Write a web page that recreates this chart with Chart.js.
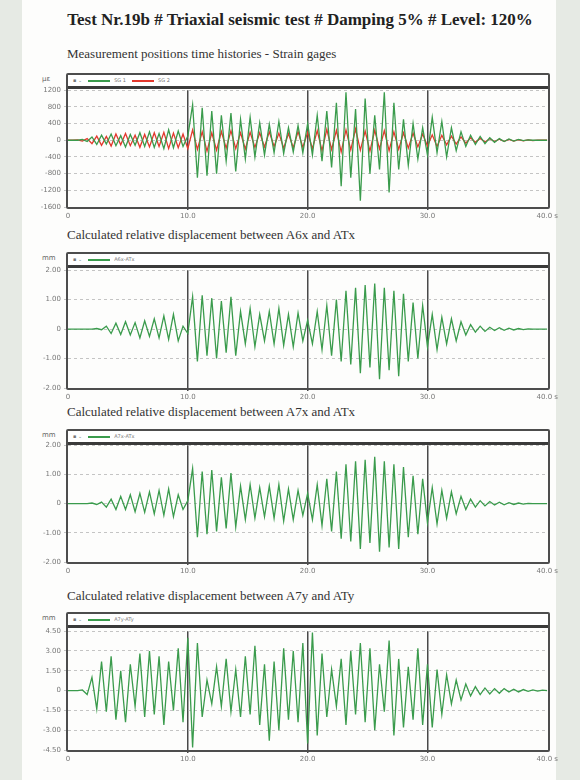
<!DOCTYPE html>
<html>
<head>
<meta charset="utf-8">
<script src="https://cdn.jsdelivr.net/npm/chart.js@4/dist/chart.umd.min.js"></script>
<style>
  html, body { margin: 0; padding: 0; }
  body { width: 580px; height: 780px; background: #e6eae4; position: relative; overflow: hidden; }
  #page { position: absolute; left: 22px; top: 0; width: 534px; height: 780px; background: #fdfdfc; }
  .title { position: absolute; left: 0; width: 600px; text-align: center; top: 10px;
    font: bold 17px "Liberation Serif", "DejaVu Serif", serif; color: #222; }
  .sub { position: absolute; left: 67px; font: 13px "Liberation Serif", "DejaVu Serif", serif; color: #333; }
  .unit { position: absolute; left: 42px; font: 7px "DejaVu Sans", sans-serif; color: #666; }
  .frame { position: absolute; left: 66px; width: 484px; box-sizing: border-box;
    border: 2px solid #4d4d4d; border-radius: 2px; pointer-events: none; }
  .strip { height: 11px; border-bottom: 3px solid #3a3a3a; background: #fff;
    font: 5px "DejaVu Sans", sans-serif; color: #777; line-height: 11px; padding-left: 5px; }
  .strip i { display: inline-block; width: 22px; height: 2px; vertical-align: middle; margin: 0 4px 0 6px; }
  canvas { position: absolute; }
</style>
</head>
<body>
<div id="page"></div>
<div class="title">Test Nr.19b # Triaxial seismic test # Damping 5% # Level: 120%</div>
<div id="holder"></div>

<script>
// time step between samples (s)
const DT = 0.4;
const xTicks = [0, 10, 20, 30, 40];

// ---- strain gages (µε) ----
const strainGreen = [
  0, 0, 0, 20, -30,
  80, -100, 120, -90, 150, -130, 110, -160, 140, -120, 180, -150, 200, -170, 160, -200, 250, -180, 220, -150,
  100,
  850, -900, 780, -850, 700, -800, 600, -500, 650, -750, 500, -450, 550, -400,
  420, -350, 380, -300, 450, -320, 300, -280, 350, -300, 400, -350,
  600, -500, 700, -650, 900, -1100, 1150, -900, 750, -1450, 1000, -800, 600, -700, 1150, -1250, 900, -700, 500, -600, 400,
  -450, 300, -350, 550, -300, 450, -400, 300, -250, 200, -150, 120,
  -100, 90, -80, 60, -50, 40, -30, 30, -20, 20, -10, 10, 0, 0, 0, 0
];
const strainRed = [
  0, 0, 10, -20, 40,
  -80, 100, -120, 90, -140, 150, -110, 160, -130, 120, -170, 140, -160, 180, -150, 190, -200, 170, -180, 150,
  -200,
  250, -220, 200, -260, 180, -240, 210, -190, 230, -200, 180, -210, 190, -170,
  180, -160, 200, -150, 170, -190, 160, -180, 210, -170, 190, -200,
  230, -250, 260, -220, 240, -280, 250, -230, 270, -240, 220, -260, 240, -210, 230, -250, 200, -220, 180, -190, 170,
  -160, 150, -140, 130, -150, 120, -110, 100, -90, 80, -70, 60,
  -50, 45, -40, 35, -30, 25, -25, 20, -20, 15, -15, 10, -10, 5, 0, 0
];

// ---- relative displacements (mm) ----
const dispA6x = [
  0, 0, 0, 0, 0, 0, 0.02, -0.02,
  0.1, -0.15, 0.2, -0.18, 0.25, -0.2, 0.22, -0.3, 0.28, -0.25, 0.35, -0.3, 0.45, -0.35, 0.5,
  -0.4, 0.1,
  -0.15,
  1.1, -1.1, 1.15, -0.9, 1.05, -1.0, 0.95, -0.8, 1.1, -0.9,
  0.6, -0.5, 0.7, -0.6, 0.5, -0.4, 0.6, -0.5, 0.7, -0.55, 0.5, -0.6, 0.55, -0.4, 0.3,
  -0.5, 0.6, -0.7, 0.8, -0.9, 1.0,
  -1.1, 1.3, -1.2, 1.4, -1.5, 1.5, -1.3, 1.55, -1.7, 1.4, -1.4, 1.3, -1.6, 1.2, -1.1, 0.9, -1.0, 0.8,
  -0.6, 0.5, -0.7, 0.4, -0.5, 0.35, -0.4, 0.25, -0.2,
  0.15, -0.1, 0.1, -0.08, 0.06, -0.05, 0.05, -0.04, 0.03, -0.03, 0.02, -0.02, 0.01, 0, 0, 0, 0
];
const dispA7x = [
  0, 0, 0, 0, 0, 0.02, -0.03, 0.05,
  -0.12, 0.15, -0.2, 0.25, -0.2, 0.3, -0.28, 0.35, -0.3, 0.4, -0.35, 0.45, -0.4, 0.5, -0.45,
  0.3, -0.2, 0.1,
  1.2, -1.15, 1.1, -1.05, 1.15, -0.95, 0.9, -0.85, 1.05, -0.8,
  0.6, -0.55, 0.65, -0.5, 0.55, -0.45, 0.6, -0.5, 0.65, -0.6, 0.5, -0.55, 0.45, -0.4, 0.35,
  -0.55, 0.65, -0.75, 0.85, -0.95, 1.1,
  -1.2, 1.35, -1.3, 1.45, -1.55, 1.5, -1.35, 1.6, -1.65, 1.45, -1.5, 1.35, -1.55, 1.25, -1.15, 0.95, -1.05, 0.85,
  -0.65, 0.55, -0.7, 0.45, -0.5, 0.4, -0.35, 0.25, -0.2,
  0.15, -0.12, 0.1, -0.08, 0.07, -0.05, 0.05, -0.04, 0.03, -0.03, 0.02, -0.02, 0.01, 0, 0, 0, 0
];
const dispA7y = [
  0, 0, 0, 0.05, -0.3,
  1.0, -1.4, 2.2, -1.6, 2.6, -2.2, 1.5, -2.4, 2.0, -1.2, 2.8, -2.0, 3.0, -1.8, 2.6, -2.6,
  2.2, -1.5, 3.2, -2.4, 4.0, -4.3, 3.6, -2.0, 0.8, -1.0,
  1.8, -1.2, 2.4, -1.6, 1.6, -2.0, 2.6, -1.8, 3.4, -2.6, 2.0, -3.8, 2.2, -3.0, 3.2,
  -2.2, 3.0, -2.4, 3.6, -4.0, 4.4, -3.4, 2.8, -2.0, 1.6, -1.2, 2.4, -2.6, 3.0, -1.8,
  3.6, -2.4, 3.2, -3.0, 2.0, -1.6, 3.8, -3.4, 2.4, -2.8, 1.8, -2.2, 3.2, -2.6, 2.0,
  -2.8, 1.6, -1.8, 1.2, -1.0, 0.8, -0.7, 0.5, -0.4, 0.3,
  -0.3, 0.2, -0.25, 0.15, -0.2, 0.15, -0.1, 0.1, -0.1, 0.08, -0.06, 0.05, -0.04, 0.03, 0
];

const GREEN = "#3a9b4c";
const RED = "#e3382d";

const panels = [
  { title: "Measurement positions time histories - Strain gages", titleTop: 46, unit: "µε",
    frameTop: 73, plotTop: 88, plotBottom: 207, min: -1600, max: 1200, step: 400, digits: 0,
    series: [{ data: strainGreen, color: GREEN, name: "SG 1" }, { data: strainRed, color: RED, name: "SG 2" }] },
  { title: "Calculated relative displacement between A6x and ATx", titleTop: 227, unit: "mm",
    frameTop: 252, plotTop: 268, plotBottom: 388, min: -2, max: 2, step: 1, digits: 2,
    series: [{ data: dispA6x, color: GREEN, name: "A6x-ATx" }] },
  { title: "Calculated relative displacement between A7x and ATx", titleTop: 404, unit: "mm",
    frameTop: 429, plotTop: 443, plotBottom: 562, min: -2, max: 2, step: 1, digits: 2,
    series: [{ data: dispA7x, color: GREEN, name: "A7x-ATx" }] },
  { title: "Calculated relative displacement between A7y and ATy", titleTop: 588, unit: "mm",
    frameTop: 612, plotTop: 629, plotBottom: 750, min: -4.5, max: 4.5, step: 1.5, digits: 2,
    series: [{ data: dispA7y, color: GREEN, name: "A7y-ATy" }] }
];

const holder = document.getElementById("holder");
const CANVAS_LEFT = 20, CANVAS_W = 540, AXIS_W = 48, PAD_TOP = 5, XAXIS_H = 14;

panels.forEach((p, k) => {
  // heading
  const t = document.createElement("div");
  t.className = "sub";
  t.style.top = p.titleTop + "px";
  t.innerText = p.title;
  holder.appendChild(t);

  const u = document.createElement("div");
  u.className = "unit";
  u.style.top = (p.frameTop + 2) + "px";
  u.innerText = p.unit;
  holder.appendChild(u);

  // canvas
  const plotH = p.plotBottom - p.plotTop;
  const cv = document.createElement("canvas");
  cv.id = "chart" + k;
  cv.width = CANVAS_W;
  cv.height = PAD_TOP + plotH + XAXIS_H;
  cv.style.left = CANVAS_LEFT + "px";
  cv.style.top = (p.plotTop - PAD_TOP) + "px";
  cv.style.width = CANVAS_W + "px";
  cv.style.height = cv.height + "px";
  holder.appendChild(cv);

  new Chart(cv.getContext("2d"), {
    type: "line",
    data: {
      datasets: p.series.map(s => ({
        label: s.name,
        data: s.data.map((v, i) => ({ x: i * DT, y: v })),
        borderColor: s.color,
        borderWidth: 1.3,
        pointRadius: 0,
        tension: 0,
        fill: false
      }))
    },
    options: {
      responsive: false,
      animation: false,
      events: [],
      layout: { padding: { top: PAD_TOP, right: CANVAS_W - 548 + CANVAS_LEFT, left: 0, bottom: 0 } },
      plugins: { legend: { display: false }, tooltip: { enabled: false } },
      scales: {
        x: {
          type: "linear", min: 0, max: 40,
          afterBuildTicks: s => { s.ticks = xTicks.map(v => ({ value: v })); },
          afterFit: s => { s.height = XAXIS_H; },
          ticks: {
            padding: 2, maxRotation: 0, color: "#777",
            font: { size: 7, family: "DejaVu Sans" },
            callback: v => v === 0 ? "0" : v === 40 ? "40.0 s" : v.toFixed(1)
          },
          grid: {
            color: c => (c.tick && (c.tick.value === 0 || c.tick.value === 40)) ? "rgba(0,0,0,0)" : "#4a4a4a",
            lineWidth: 1.5, tickLength: 3
          },
          border: { display: false }
        },
        y: {
          min: p.min, max: p.max,
          afterFit: s => { s.width = AXIS_W; },
          ticks: {
            stepSize: p.step, autoSkip: false, padding: 3, color: "#777",
            font: { size: 7, family: "DejaVu Sans" },
            callback: v => v === 0 ? "0" : v.toFixed(p.digits)
          },
          grid: { color: "#b5b5b5", lineWidth: 0.8, tickLength: 4 },
          border: { display: false, dash: [3, 3] }
        }
      }
    }
  });

  // frame with legend strip
  const f = document.createElement("div");
  f.className = "frame";
  f.style.top = p.frameTop + "px";
  f.style.height = (p.plotBottom - p.frameTop + 2) + "px";
  const strip = document.createElement("div");
  strip.className = "strip";
  strip.innerHTML = "▪ ⌄" + p.series.map(s =>
    `<i style="background:${s.color}"></i>${s.name}`).join("");
  f.appendChild(strip);
  holder.appendChild(f);
});
</script>
</body>
</html>
